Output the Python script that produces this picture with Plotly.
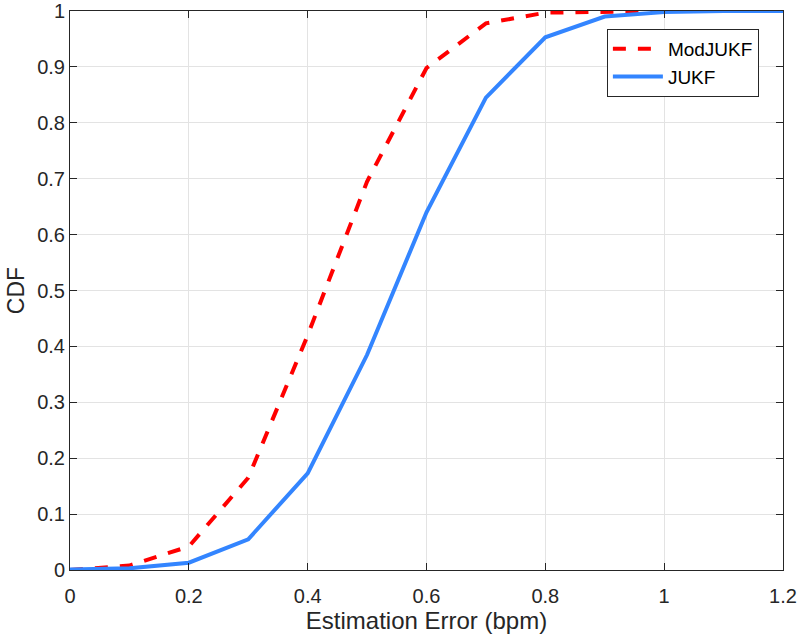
import plotly.graph_objs as go

# estimation error (bpm) grid
err = [0.0, 0.1, 0.2, 0.3, 0.4, 0.5, 0.6, 0.7, 0.8, 0.9, 1.0, 1.1, 1.2]

cdf_modjukf = [0.0, 0.008, 0.042, 0.165, 0.42, 0.695, 0.898, 0.978, 0.997, 0.999, 1.0, 1.0, 1.0]
cdf_jukf = [0.001, 0.003, 0.013, 0.055, 0.173, 0.385, 0.64, 0.845, 0.953, 0.99, 0.998, 1.0, 1.0]

x_ticks = [0, 0.2, 0.4, 0.6, 0.8, 1, 1.2]
x_labels = ['0', '0.2', '0.4', '0.6', '0.8', '1', '1.2']
y_ticks = [0, 0.1, 0.2, 0.3, 0.4, 0.5, 0.6, 0.7, 0.8, 0.9, 1]
y_labels = ['0', '0.1', '0.2', '0.3', '0.4', '0.5', '0.6', '0.7', '0.8', '0.9', '1']

fig = go.Figure()

fig.add_trace(go.Scatter(x=err, y=cdf_modjukf, mode='lines', name='ModJUKF',
                         line=dict(color='#ff0000', width=4, dash='13px,12px')))
fig.add_trace(go.Scatter(x=err, y=cdf_jukf, mode='lines', name='JUKF',
                         line=dict(color='#3385ff', width=4)))

axis_common = dict(
    showgrid=True, gridcolor='#e3e3e3', gridwidth=1,
    showline=True, linecolor='#262626', linewidth=1, mirror='ticks',
    ticks='inside', ticklen=7, tickcolor='#262626',
    zeroline=False, automargin=False,
    tickfont=dict(size=20, color='#262626'),
)

fig.update_layout(
    width=798, height=636,
    margin=dict(l=70, r=15, t=11, b=66),
    paper_bgcolor='white', plot_bgcolor='white',
    font=dict(family='Liberation Sans, Arial, sans-serif', color='#262626'),
    xaxis=dict(range=[0, 1.2], tickvals=x_ticks, ticktext=x_labels,
               ticklabelstandoff=8,
               title=dict(text='Estimation Error (bpm)', font=dict(size=24), standoff=3),
               **axis_common),
    yaxis=dict(range=[0, 1], tickvals=y_ticks, ticktext=y_labels,
               title=dict(text='CDF', font=dict(size=23), standoff=6),
               **axis_common),
    legend=dict(x=0.753, y=0.968, xanchor='left', yanchor='top',
                bgcolor='white', bordercolor='#262626', borderwidth=1,
                itemwidth=50,
                font=dict(size=19, color='#000000'), tracegroupgap=0),
    showlegend=True,
)

fig.write_html("out.html", config={'displayModeBar': False},
               post_script="document.body.style.margin='0';")
